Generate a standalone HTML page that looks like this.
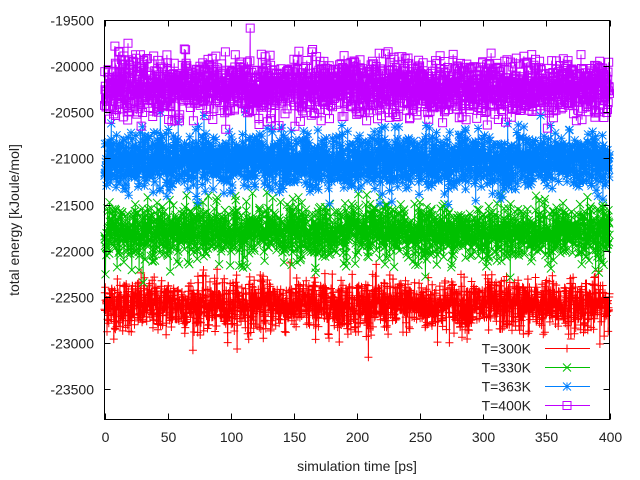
<!DOCTYPE html>
<html><head><meta charset="utf-8"><style>
html,body{margin:0;padding:0;background:#fff}
svg{display:block}
text{font-family:"Liberation Sans","DejaVu Sans",sans-serif;font-size:14px;fill:#222}
</style></head><body>
<svg id="s" width="640" height="480" xmlns="http://www.w3.org/2000/svg">
<rect width="640" height="480" fill="#fff"/>
<g id="data"></g>
<g id="axes"></g>
</svg>
<script>
var NS="http://www.w3.org/2000/svg";
var L=104.5,R=609.5,T=20.5,B=419.5;
function X(t){return L+(t/400)*(R-L);}
function Y(v){return 20+(-19500-v)/500*46.15;}
var seed=12345;function rnd(){seed=(seed*1103515245+12345)%2147483648;return seed/2147483648;}
function gauss(){var u=rnd()||1e-9,v=rnd();return Math.sqrt(-2*Math.log(u))*Math.cos(2*Math.PI*v);}
var series=[
 {c:"#ff0000",m:-22590,sd:140,k:"plus"},
 {c:"#00c000",m:-21800,sd:145,k:"x"},
 {c:"#0080ff",m:-21030,sd:150,k:"star"},
 {c:"#c000ff",m:-20230,sd:150,k:"box"}];
function marker(k,x,y){
 var d=4;
 if(k=="plus")return "M"+(x-d)+" "+y+"h"+(2*d)+"M"+x+" "+(y-d)+"v"+(2*d);
 if(k=="x")return "M"+(x-d)+" "+(y-d)+"l"+(2*d)+" "+(2*d)+"M"+(x-d)+" "+(y+d)+"l"+(2*d)+" "+(-2*d);
 if(k=="star")return "M"+(x-d)+" "+y+"h"+(2*d)+"M"+x+" "+(y-d)+"v"+(2*d)+"M"+(x-d)+" "+(y-d)+"l"+(2*d)+" "+(2*d)+"M"+(x-d)+" "+(y+d)+"l"+(2*d)+" "+(-2*d);
 return "M"+(x-d)+" "+(y-d)+"h"+(2*d)+"v"+(2*d)+"h"+(-2*d)+"z";
}
var g=document.getElementById("data"),N=2000;
series.forEach(function(s){
 var p="",m="";
 for(var i=0;i<=N;i++){
  var t=i*400/N,v=s.m+s.sd*gauss();
  var x=X(t).toFixed(1),y=Y(v).toFixed(1);
  p+=(i?"L":"M")+x+" "+y;
  m+=marker(s.k,+x,+y);
 }
 var e=document.createElementNS(NS,"path");e.setAttribute("d",p);e.setAttribute("stroke",s.c);e.setAttribute("fill","none");e.setAttribute("stroke-width","1");g.appendChild(e);
 e=document.createElementNS(NS,"path");e.setAttribute("d",m);e.setAttribute("stroke",s.c);e.setAttribute("fill","none");e.setAttribute("stroke-width","1");g.appendChild(e);
});
var a="";
a+='<rect x="'+L+'" y="'+T+'" width="'+(R-L)+'" height="'+(B-T)+'" fill="none" stroke="#000" stroke-width="1"/>';
var yl=[-19500,-20000,-20500,-21000,-21500,-22000,-22500,-23000,-23500];
yl.forEach(function(v){var y=Math.round(Y(v))+0.5;
 a+='<path d="M'+L+' '+y+'h6M'+R+' '+y+'h-6" stroke="#000"/>';
 a+='<text x="94" y="'+(y+5)+'" text-anchor="end">'+v+'</text>';});
for(var t=0;t<=400;t+=50){var x=Math.round(X(t))+0.5;
 a+='<path d="M'+x+' '+B+'v-6M'+x+' '+T+'v6" stroke="#000"/>';
 a+='<text x="'+x+'" y="442" text-anchor="middle">'+t+'</text>';}
a+='<text x="357" y="471" text-anchor="middle">simulation time [ps]</text>';
a+='<text transform="translate(19,220) rotate(-90)" text-anchor="middle">total energy [kJoule/mol]</text>';
var names=["T=300K","T=330K","T=363K","T=400K"];
series.forEach(function(s,i){var y=348.5+i*19;
 a+='<rect x="470" y="'+(y-9)+'" width="125" height="18" fill="#fff"/>';});
series.forEach(function(s,i){var y=348.5+i*19;
 a+='<text x="531" y="'+(y+5)+'" text-anchor="end">'+names[i]+'</text>';
 a+='<path d="M545 '+y+'h45" stroke="'+s.c+'"/>';
 a+='<path d="'+marker(s.k,567,y)+'" stroke="'+s.c+'" fill="none"/>';});
document.getElementById("axes").innerHTML=a;
</script>
</body></html>
